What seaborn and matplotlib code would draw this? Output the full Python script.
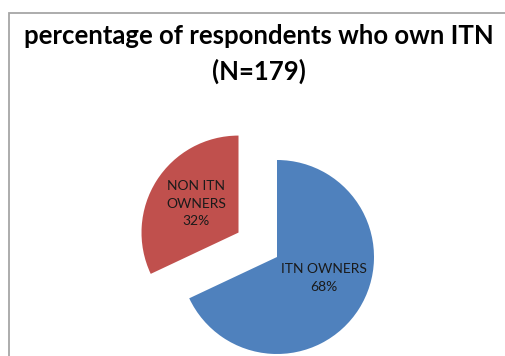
import matplotlib
matplotlib.use("Agg")
import matplotlib.pyplot as plt
import seaborn as sns
from matplotlib.patches import Rectangle

sns.set_theme(style="white")
plt.rcParams['font.family'] = ['Lato', 'DejaVu Sans']

categories = ["ITN OWNERS", "NON ITN OWNERS"]
label_text = ["ITN OWNERS", "NON ITN\nOWNERS"]
values = [68, 32]
colors = ["#4F81BD", "#C0504D"]
title = "percentage of respondents who own ITN\n(N=179)"

W, H = 505, 356
R = 97
fig = plt.figure(figsize=(W / 100, H / 100), dpi=100)
fig.patch.set_facecolor("white")

# chart frame (extends beyond the right/bottom edges like the source crop)
fig.patches.append(Rectangle((8.5 / W, -0.1), 1.2, (H - 12.5) / H + 0.1,
                             transform=fig.transFigure, fill=False,
                             edgecolor="#a6a6a6", linewidth=1.3))

ax = fig.add_axes([0, 0, 1, 1])

labels = [f"{t}\n{v}%" for t, v in zip(label_text, values)]
wedges, texts = ax.pie(values, colors=colors, startangle=90, counterclock=False,
                       explode=(0, 0.47 * R), center=(277, H - 257), radius=R,
                       labels=labels, labeldistance=0.54,
                       wedgeprops=dict(linewidth=0),
                       textprops=dict(fontsize=10, color="#1a1a1a", linespacing=1.55))
for t in texts:
    t.set_ha("center")
    t.set_va("center")
    t.set_multialignment("center")
# Excel-style placement nudge for the large slice's label
x0, y0 = texts[0].get_position()
texts[0].set_position((x0 + 3, y0 + 7))
x1, y1 = texts[1].get_position()
texts[1].set_position((x1 + 2, y1 + 1))

ax.set_xlim(0, W)
ax.set_ylim(0, H)
ax.set_aspect("equal")
ax.axis("off")

fig.text(259 / W, (H - 54) / H, title, ha="center", va="center", fontsize=18.5,
         fontweight="bold", color="black", linespacing=1.5)

fig.savefig("out.png", dpi=100, facecolor="white")
